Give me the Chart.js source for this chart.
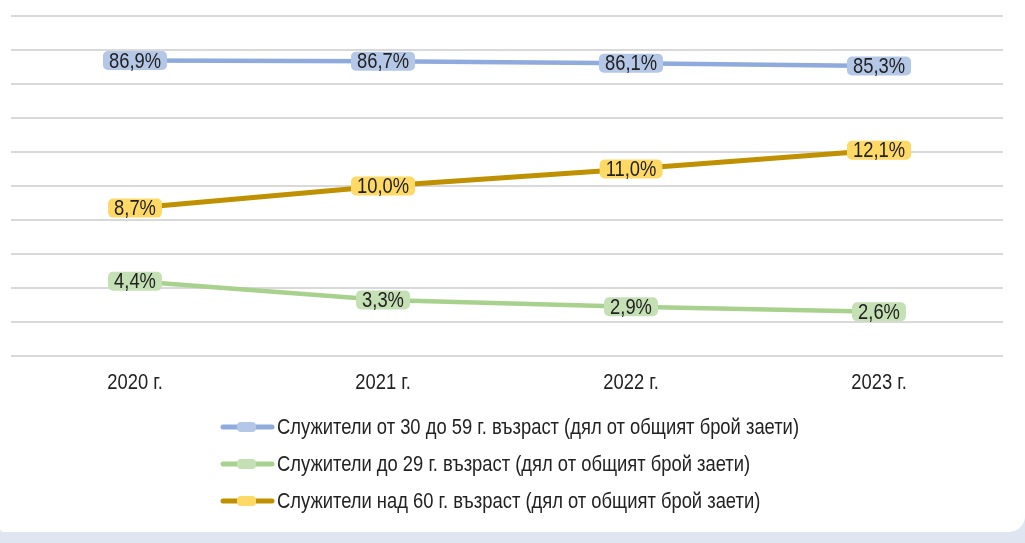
<!DOCTYPE html>
<html>
<head>
<meta charset="utf-8">
<script src="https://cdn.jsdelivr.net/npm/chart.js@4"></script>
<style>
    html, body { margin: 0; padding: 0; background: #DFE6F2; }
    #card {
        width: 1025px; height: 532px; background: #fff;
        border-bottom-right-radius: 16px; border-bottom-left-radius: 4px;
        position: relative;
    }
</style>
</head>
<body>
<div id="card"><canvas id="ageChart" width="1025" height="532"></canvas></div>
<script>
// data
const years = ['2020 г.', '2021 г.', '2022 г.', '2023 г.'];
const share30to59 = [86.9, 86.7, 86.1, 85.3];
const shareTo29 = [4.4, 3.3, 2.9, 2.6];
const shareOver60 = [8.7, 10.0, 11.0, 12.1];
const seriesNames = [
    'Служители от 30 до 59 г. възраст (дял от общият брой заети)',
    'Служители до 29 г. възраст (дял от общият брой заети)',
    'Служители над 60 г. възраст (дял от общият брой заети)'
];

// no Arial Narrow here, so squeeze Liberation Sans by hand
const FONT = '22px "Liberation Sans", Arial, sans-serif';
const NARROW = 0.835;
const TEXT_COLOR = '#222222';

function pct(v) {
    return v.toFixed(1).replace('.', ',') + '%';
}

function narrowWidth(ctx, txt) {
    return ctx.measureText(txt).width * NARROW;
}

function narrowText(ctx, txt, x, y, align) {
    ctx.save();
    ctx.translate(x, y);
    ctx.scale(NARROW, 1);
    ctx.textAlign = align;
    ctx.fillText(txt, 0, 0);
    ctx.restore();
}

function roundRect(ctx, x, y, w, h, r) {
    ctx.beginPath();
    ctx.moveTo(x + r, y);
    ctx.arcTo(x + w, y, x + w, y + h, r);
    ctx.arcTo(x + w, y + h, x, y + h, r);
    ctx.arcTo(x, y + h, x, y, r);
    ctx.arcTo(x, y, x + w, y, r);
    ctx.closePath();
}

// year labels under the plot
const yearLabels = {
    id: 'yearLabels',
    afterDraw(chart) {
        const ctx = chart.ctx;
        const xs = chart.scales.x;
        ctx.save();
        ctx.font = FONT;
        ctx.textBaseline = 'middle';
        ctx.fillStyle = TEXT_COLOR;
        chart.data.labels.forEach((lab, i) => {
            narrowText(ctx, lab, xs.getPixelForValue(i), chart.chartArea.bottom + 27, 'center');
        });
        ctx.restore();
    }
};

// value boxes on each point
const boxLabels = {
    id: 'boxLabels',
    afterDatasetsDraw(chart) {
        const ctx = chart.ctx;
        ctx.save();
        ctx.font = FONT;
        ctx.textBaseline = 'middle';
        chart.data.datasets.forEach((ds, i) => {
            const meta = chart.getDatasetMeta(i);
            meta.data.forEach((pt, j) => {
                const txt = pct(ds.data[j]);
                const w = narrowWidth(ctx, txt) + 12;
                const h = 19;
                ctx.fillStyle = ds.labelFill;
                roundRect(ctx, pt.x - w / 2, pt.y - h / 2, w, h, 5);
                ctx.fill();
                ctx.fillStyle = TEXT_COLOR;
                narrowText(ctx, txt, pt.x, pt.y + 1, 'center');
            });
        });
        ctx.restore();
    }
};

// legend as a left aligned block under the plot
const blockLegend = {
    id: 'blockLegend',
    afterDraw(chart) {
        const ctx = chart.ctx;
        const area = chart.chartArea;
        ctx.save();
        ctx.font = FONT;
        ctx.textBaseline = 'middle';
        const widths = chart.data.datasets.map(ds => narrowWidth(ctx, ds.label));
        const blockW = 56 + Math.max(...widths);
        const left = Math.round((area.left + area.right) / 2 - blockW / 2) + 3;
        chart.data.datasets.forEach((ds, i) => {
            const y = area.bottom + 71 + i * 37;
            ctx.strokeStyle = ds.borderColor;
            ctx.lineWidth = 5;
            ctx.lineCap = 'round';
            ctx.beginPath();
            ctx.moveTo(left + 2, y);
            ctx.lineTo(left + 51, y);
            ctx.stroke();
            ctx.fillStyle = ds.labelFill;
            roundRect(ctx, left + 16, y - 5, 19, 10, 4);
            ctx.fill();
            ctx.fillStyle = TEXT_COLOR;
            narrowText(ctx, ds.label, left + 56, y + 1, 'left');
        });
        ctx.restore();
    }
};

const ctx = document.getElementById('ageChart');
new Chart(ctx, {
    type: 'line',
    data: {
        labels: years,
        datasets: [{
            label: seriesNames[0],
            data: share30to59,
            yAxisID: 'y1',
            borderColor: '#8FAADC',
            labelFill: '#B4C7E7',
            borderWidth: 4.5
        }, {
            label: seriesNames[1],
            data: shareTo29,
            yAxisID: 'y',
            borderColor: '#A9D18E',
            labelFill: '#C5E0B4',
            borderWidth: 4.5
        }, {
            label: seriesNames[2],
            data: shareOver60,
            yAxisID: 'y',
            borderColor: '#BF9000',
            labelFill: '#FFD966',
            borderWidth: 5
        }]
    },
    options: {
        responsive: false,
        animation: false,
        layout: { padding: { top: 16, left: 11, right: 22, bottom: 176 } },
        elements: {
            point: { radius: 0, hoverRadius: 0 },
            line: { tension: 0 }
        },
        plugins: {
            legend: { display: false },
            tooltip: { enabled: false }
        },
        scales: {
            x: {
                offset: true,
                grid: { display: false, drawTicks: false },
                border: { display: false },
                ticks: { display: false }
            },
            y: {
                min: 0,
                max: 20,
                ticks: { display: false, stepSize: 2 },
                border: { display: false },
                grid: { color: '#D9D9D9', lineWidth: 2, drawTicks: false }
            },
            y1: {
                display: false,
                min: 0,
                max: 100
            }
        }
    },
    plugins: [boxLabels, yearLabels, blockLegend]
});
</script>
</body>
</html>
